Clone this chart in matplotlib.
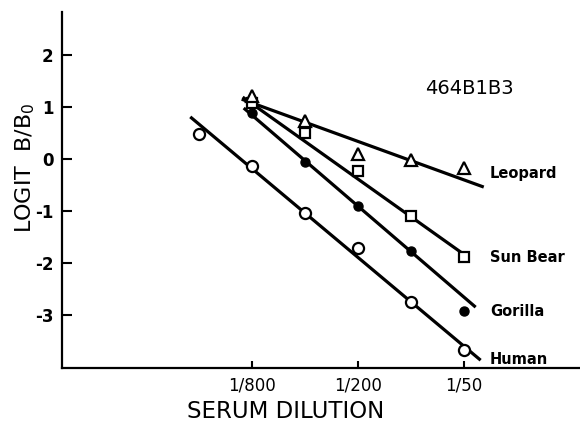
import matplotlib.pyplot as plt
import numpy as np

plt.rcParams['font.family'] = 'DejaVu Sans'

# Serum dilutions (denominators) for each point
dil_human = np.array([1600, 800, 400, 200, 100, 50])
dil_other = np.array([800, 400, 200, 100, 50])

# Logit B/B0 values
human = [0.48, -0.13, -1.04, -1.71, -2.75, -3.67]
gorilla = [0.88, -0.06, -0.90, -1.77, -2.92]
sun_bear = [1.08, 0.50, -0.23, -1.10, -1.88]
leopard = [1.21, 0.73, 0.10, -0.02, -0.17]

# Drawn regression lines: end dilutions and end logit values
human_fit = ([1787, 40], [0.81, -3.87])
gorilla_fit = ([888, 42.7], [0.98, -2.85])
sun_bear_fit = ([900, 50], [1.19, -1.83])
leopard_fit = ([912, 38.4], [1.15, -0.54])

tick_dil = [800, 200, 50]
tick_labels = ['1/800', '1/200', '1/50']

fig = plt.figure(figsize=(5.8, 4.23), dpi=100)
ax = fig.add_axes([0.107, 0.130, 0.893, 0.842])
ax.set_xscale('log', base=2)

lw = 2.3
for fit in [human_fit, gorilla_fit, sun_bear_fit, leopard_fit]:
    ax.plot(1 / np.array(fit[0]), fit[1], color='black', lw=lw, solid_capstyle='butt', zorder=2)

ax.plot(1 / dil_human, human, 'o', ms=8, mfc='white', mec='black', mew=1.6, zorder=3)
ax.plot(1 / dil_other, gorilla, 'o', ms=6.5, mfc='black', mec='black', zorder=3)
ax.plot(1 / dil_other, sun_bear, 's', ms=7.5, mfc='white', mec='black', mew=1.6, zorder=3)
ax.plot(1 / dil_other, leopard, '^', ms=9, mfc='white', mec='black', mew=1.6, zorder=3)

ax.set_xlim(1 / 9563, 1 / 10.9)
ax.set_ylim(-4.02, 2.83)

ax.set_xticks([1 / d for d in tick_dil])
ax.set_xticklabels(tick_labels, fontsize=12)
ax.xaxis.set_minor_locator(plt.NullLocator())
ax.set_yticks([-3, -2, -1, 0, 1, 2])
ax.set_yticklabels(['-3', '-2', '-1', '0', '1', '2'], fontsize=12, fontweight='bold')
ax.tick_params(axis='y', direction='in', length=7, width=1.5, pad=6)
ax.tick_params(axis='x', direction='in', length=5, width=1.5, pad=6)

ax.spines['top'].set_visible(False)
ax.spines['right'].set_visible(False)
ax.spines['left'].set_linewidth(1.6)
ax.spines['bottom'].set_linewidth(1.6)

# Series labels
for name, y in [('Leopard', 173), ('Sun Bear', 258), ('Gorilla', 312), ('Human', 359)]:
    fig.text(490 / 580, 1 - y / 423, name, fontsize=10.5, fontweight='bold', ha='left', va='center')

fig.text(425 / 580, 1 - 88 / 423, '464B1B3', fontsize=14, ha='left', va='center')
fig.text(286 / 580, 1 - 411 / 423, 'SERUM DILUTION', fontsize=16.5, ha='center', va='center')
fig.text(25 / 580, 1 - 168 / 423, r'LOGIT  B/B$_\mathregular{0}$', fontsize=16, rotation=90,
         ha='center', va='center')

plt.savefig('out.png', dpi=100)
